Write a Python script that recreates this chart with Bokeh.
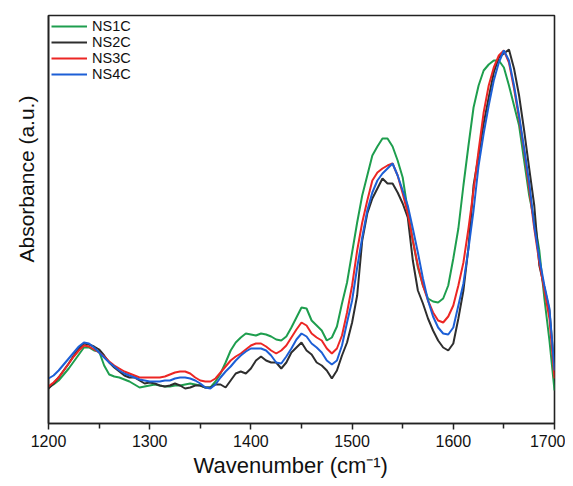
from bokeh.plotting import figure
from bokeh.models import Range1d, FixedTicker, Legend, LegendItem, Title
from bokeh.embed import file_html
from bokeh.resources import INLINE

wavenumber = list(range(1200, 1701, 5))

ns1c = [36, 39, 43, 49, 55, 62, 69, 76, 76, 73, 72, 58, 49, 47, 46, 44, 42, 39, 36, 37,
        38, 39, 38, 37, 37, 38, 38, 39, 40, 39, 38, 36, 36, 42, 50, 61, 73, 81, 86, 90,
        89, 88, 90, 89, 87, 84, 83, 87, 96, 106, 116, 115, 103, 98, 93, 83, 86, 97, 120, 141,
        171, 201, 228, 248, 268, 277, 285, 285, 277, 263, 246, 213, 183, 156, 138, 125, 122, 121, 125, 138,
        165, 195, 238, 278, 316, 338, 353, 359, 363, 363, 356, 338, 318, 298, 263, 228, 203, 173, 125, 83,
        33]

ns2c = [35, 40, 46, 53, 60, 68, 75, 80, 79, 77, 74, 68, 61, 56, 52, 48, 46, 46, 43, 40,
        41, 40, 38, 37, 38, 40, 38, 35, 36, 38, 38, 36, 36, 39, 39, 36, 43, 50, 52, 50,
        55, 63, 67, 63, 61, 61, 55, 61, 71, 76, 81, 73, 69, 61, 58, 53, 45, 53, 68, 81,
        101, 128, 183, 210, 225, 235, 245, 240, 240, 231, 220, 206, 163, 133, 120, 105, 93, 83, 76, 73,
        80, 105, 133, 176, 238, 268, 300, 326, 351, 366, 370, 374, 355, 328, 293, 255, 218, 158, 136, 113,
        53]

ns3c = [37, 41, 46, 53, 60, 67, 73, 78, 77, 74, 71, 67, 62, 58, 55, 52, 50, 48, 46, 46,
        46, 46, 46, 47, 49, 51, 52, 52, 50, 46, 43, 42, 42, 45, 51, 57, 63, 67, 70, 74,
        78, 80, 80, 77, 73, 70, 73, 78, 86, 94, 101, 98, 90, 86, 83, 75, 70, 75, 88, 111,
        138, 173, 201, 223, 243, 251, 255, 258, 260, 248, 230, 210, 183, 158, 138, 123, 111, 103, 101, 107,
        118, 138, 161, 195, 233, 273, 311, 338, 356, 368, 373, 361, 335, 305, 273, 235, 195, 161, 133, 105,
        45]

ns4c = [45, 48, 53, 59, 65, 71, 77, 81, 80, 76, 71, 66, 61, 57, 53, 50, 48, 46, 44, 43,
        42, 42, 42, 43, 43, 45, 46, 46, 45, 43, 40, 36, 35, 39, 46, 52, 57, 63, 68, 72,
        75, 75, 75, 73, 68, 61, 60, 67, 75, 84, 90, 87, 80, 76, 71, 63, 59, 63, 78, 101,
        123, 156, 186, 213, 231, 243, 250, 255, 260, 248, 233, 218, 195, 171, 145, 123, 107, 96, 90, 89,
        96, 118, 140, 175, 213, 258, 290, 318, 343, 361, 373, 363, 338, 308, 275, 241, 198, 165, 138, 115,
        53]

series_names = ["NS1C", "NS2C", "NS3C", "NS4C"]
series_colors = ["#1e9e4e", "#2e2e2e", "#ec2624", "#1c5fd6"]
x_ticks = [1200, 1300, 1400, 1500, 1600, 1700]
x_minor = [1250, 1350, 1450, 1550, 1650]
x_title = "Wavenumber (cm\u207b\u00b9)"
y_title = "Absorbance (a.u.)"

FONT = "Liberation Sans"

p = figure(width=565, height=480, output_backend="svg", toolbar_location=None,
           x_range=Range1d(1200, 1700), y_range=Range1d(0, 408),
           min_border_left=48, min_border_right=11, min_border_top=15, min_border_bottom=57)
p.frame_width = 506
p.frame_height = 408

p.xgrid.visible = False
p.ygrid.visible = False
p.outline_line_color = "#222222"
p.outline_line_width = 1.6
p.background_fill_color = "white"
p.border_fill_color = "white"

renderers = []
for ys, c in zip([ns1c, ns2c, ns3c, ns4c], series_colors):
    r = p.line(wavenumber, ys, line_color=c, line_width=2)
    renderers.append(r)

legend = Legend(items=[LegendItem(label=n, renderers=[r]) for n, r in zip(series_names, renderers)],
                location="top_left")
legend.border_line_color = None
legend.background_fill_alpha = 0
legend.label_text_font = FONT
legend.label_text_font_size = "14.5px"
legend.label_text_color = "#111111"
legend.glyph_width = 36
legend.glyph_height = 16
legend.label_height = 16
legend.label_standoff = 5
legend.spacing = 0
legend.padding = 3
legend.margin = 3
p.add_layout(legend, "center")

xa = p.xaxis[0]
xa.ticker = FixedTicker(ticks=x_ticks, minor_ticks=x_minor)
xa.axis_line_width = 1.6
xa.axis_line_color = "#222222"
xa.major_tick_in = 0
xa.major_tick_out = 6
xa.minor_tick_in = 0
xa.minor_tick_out = 5
xa.major_tick_line_width = 1.5
xa.minor_tick_line_width = 1.5
xa.major_tick_line_color = "#222222"
xa.minor_tick_line_color = "#222222"
xa.major_label_text_font = FONT
xa.major_label_text_font_size = "16px"
xa.major_label_text_color = "#111111"
xa.major_label_standoff = 5

ya = p.yaxis[0]
ya.ticker = FixedTicker(ticks=[])
ya.axis_line_width = 1.6
ya.axis_line_color = "#222222"
ya.major_tick_line_color = None
ya.minor_tick_line_color = None
ya.major_label_text_font_size = "0px"

xt = Title(text=x_title, align="left", offset=145, standoff=2,
           text_font=FONT, text_font_size="22px", text_font_style="normal", text_color="#111111")
p.add_layout(xt, "below")
yt = Title(text=y_title, align="left", offset=161, standoff=21,
           text_font=FONT, text_font_size="21px", text_font_style="normal", text_color="#111111")
p.add_layout(yt, "left")

open("out.html", "w").write(file_html(p, INLINE))
